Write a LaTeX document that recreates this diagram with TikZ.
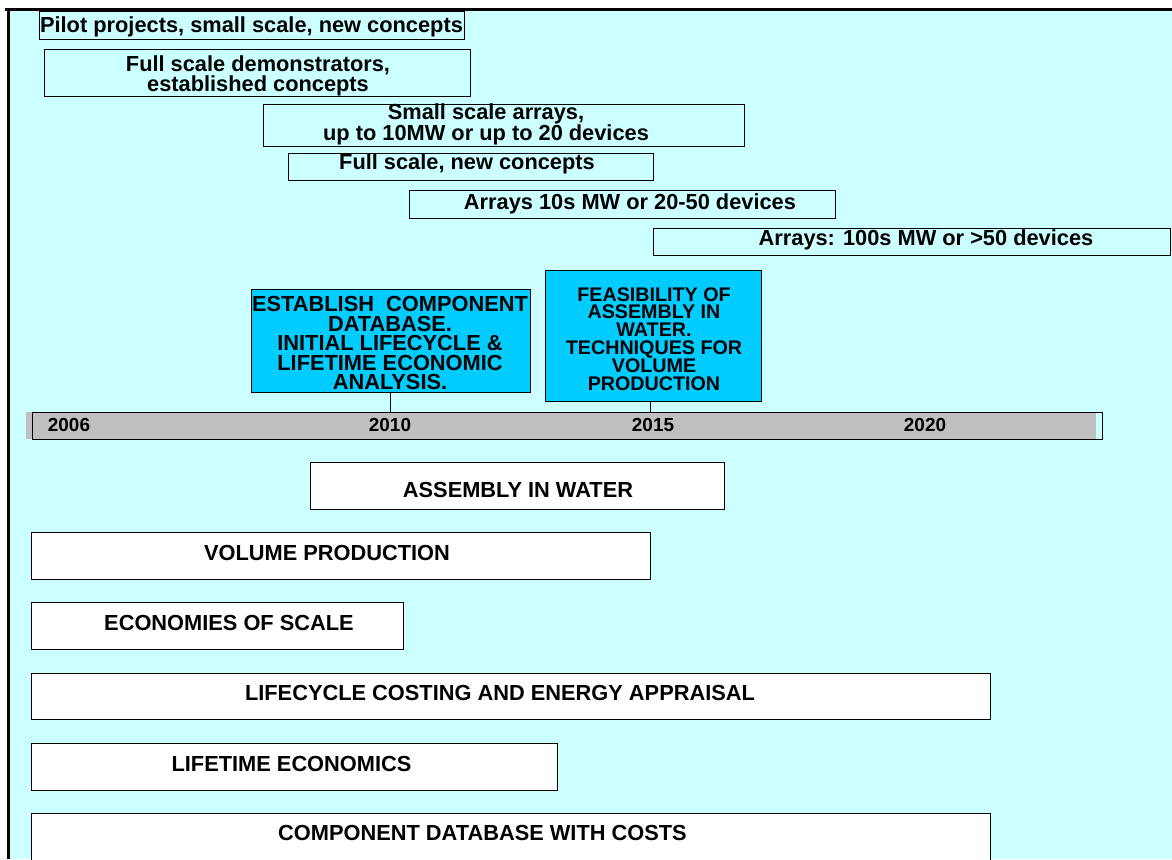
\documentclass[tikz,border=0pt]{standalone}
\usepackage{fontspec}
\setmainfont{Liberation Sans}
\usetikzlibrary{fit}
\definecolor{sky}{HTML}{CCFFFF}
\definecolor{task}{HTML}{00CCFF}
\definecolor{barfill}{HTML}{C0C0C0}
\begin{document}
\begin{tikzpicture}[x=1pt,y=-1pt,
  area/.style={inner sep=0pt, draw=black, line width=1pt},
  phase/.style={area},
  activity/.style={area, fill=white},
  milestone/.style={area, fill=task},
  txt/.style={inner sep=0pt, align=center, font=\bfseries\fontsize{21.8}{19}\selectfont},
  mtxt/.style={txt, font=\bfseries\fontsize{21.8}{19.5}\selectfont},
  stxt/.style={txt, font=\bfseries\fontsize{19.7}{17.6}\selectfont},
  year/.style={inner sep=0pt, font=\bfseries\fontsize{18.9}{20}\selectfont},
  link/.style={draw=black, line width=1pt}]
\useasboundingbox (0,0) rectangle (1172,859);
\clip (0,0) rectangle (1172,859);
% page background and frame
\fill[white] (0,0) rectangle (1172,859);
\fill[sky] (8,8) rectangle (1172,859);
\draw[line width=3pt] (5,9.5) -- (1172,9.5);
\draw[line width=3pt] (8.5,8) -- (8.5,859);

% development phases
\node[phase, fit={(39,12) (464,40)}] (p1) {};
\node[txt] (p1t) at (251.5,27) {Pilot projects, small scale, new concepts};
\node[phase, fit={(44,50) (470,96)}] (p2) {};
\node[txt] (p2t) at (258,75.5) {Full scale demonstrators,\\established concepts};
\node[phase, fit={(263,104) (744,146)}] (p3) {};
\node[txt] (p3t) at (486,124.5) {Small scale arrays,\\up to 10MW or up to 20 devices};
\node[phase, fit={(288,153) (653,180)}] (p4) {};
\node[txt] (p4t) at (467,164) {Full scale, new concepts};
\node[phase, fit={(409,190) (835,218)}] (p5) {};
\node[txt] (p5t) at (630,204) {Arrays 10s MW or 20-50 devices};
\node[phase, fit={(653,228) (1170,255)}] (p6) {};
\node[txt] (p6t) at (926,240) {Arrays: 100s MW or >50 devices};

% timeline bar
\node[fit={(26,412) (1096,439)}, inner sep=0pt, fill=barfill] (barbg) {};
\node[fit={(32,412) (1102,439)}, inner sep=0pt, draw=black, line width=1pt] (bar) {};
\node[year] (y06) at (69,424.5) {2006};
\node[year] (y10) at (390,424.5) {2010};
\node[year] (y15) at (653,424.5) {2015};
\node[year] (y20) at (925,424.5) {2020};

% milestones
\node[milestone, fit={(251,289) (530,392)}] (m1) {};
\node[mtxt] (m1t) at (390,343) {ESTABLISH\ \ COMPONENT\\DATABASE.\\INITIAL LIFECYCLE \&\\LIFETIME ECONOMIC\\ANALYSIS.};
\node[milestone, fit={(545,270) (761,401)}] (m2) {};
\node[stxt] (m2t) at (654,339) {FEASIBILITY OF\\ASSEMBLY IN\\WATER.\\TECHNIQUES FOR\\VOLUME\\PRODUCTION};
\draw[link] (m1.south) -- (m1.south |- bar.north);
\draw[link] ([xshift=-3pt]m2.south) -- ([xshift=-3pt]m2.south |- bar.north);

% research activities
\node[activity, fit={(310,462) (724,509)}] (a1) {};
\node[txt] (a1t) at (518,490) {ASSEMBLY IN WATER};
\node[activity, fit={(31,532) (650,579)}] (a2) {};
\node[txt] (a2t) at (327,553) {VOLUME PRODUCTION};
\node[activity, fit={(31,602) (403,649)}] (a3) {};
\node[txt] (a3t) at (229,623) {ECONOMIES OF SCALE};
\node[activity, fit={(31,673) (990,719)}] (a4) {};
\node[txt] (a4t) at (500,693) {LIFECYCLE COSTING AND ENERGY APPRAISAL};
\node[activity, fit={(31,743) (557,790)}] (a5) {};
\node[txt] (a5t) at (291.5,764) {LIFETIME ECONOMICS};
\node[activity, fit={(31,813) (990,880)}] (a6) {};
\node[txt] (a6t) at (482.5,833) {COMPONENT DATABASE WITH COSTS};
\end{tikzpicture}
\end{document}
